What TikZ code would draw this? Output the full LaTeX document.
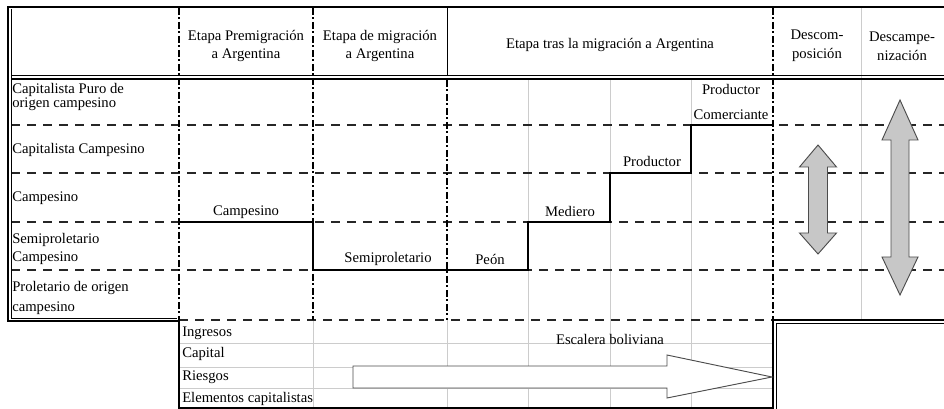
\documentclass[tikz,border=0pt]{standalone}
\usepackage{fontspec}
\setmainfont{Liberation Serif}
\begin{document}
\begin{tikzpicture}[x=0.75pt,y=-0.75pt,
  txt/.style={font=\fontsize{11}{12}\selectfont, inner sep=0pt},
  lbl/.style={txt, anchor=west, align=left},
  ctr/.style={txt, align=center},
  frame/.style={line width=2pt, black},
  thinframe/.style={line width=0.6pt, black},
  rowdash/.style={line width=0.9pt, dash pattern=on 7pt off 5pt, black!85},
  coldash/.style={line width=1.3pt, dash pattern=on 5pt off 2pt on 1.5pt off 2pt},
  gridline/.style={line width=0.6pt, black!20},
  stepline/.style={line width=2pt, line join=miter},
  dblarrow/.style={draw=black!70, fill=black!22, line width=0.7pt},
  bigarrow/.style={draw=black!70, fill=white, line width=0.7pt},
]
\useasboundingbox (0,0) rectangle (944,409);

% light grid
\foreach \x in {528,610,691} \draw[gridline] (\x,80) -- (\x,408);
\foreach \x in {313,447} \draw[gridline] (\x,320) -- (\x,408);
\draw[gridline] (861,8) -- (861,320);
\foreach \y in {343,367,388} \draw[gridline] (179,\y) -- (773,\y);

% dashed rows
\foreach \y in {125,173,222,270} \draw[rowdash] (11,\y) -- (944,\y);
\draw[rowdash] (179,320) -- (773,320);

% dash-dot columns
\foreach \x in {179,313,773} \draw[coldash] (\x,8) -- (\x,320);
\draw[coldash] (447,80) -- (447,320);
\draw[line width=0.6pt] (447,8) -- (447,76);

% frame
\draw[frame] (944,7) -- (8,7) -- (8,321) -- (179,321) -- (179,409);
\draw[thinframe] (11,9) -- (11,318) -- (177,318);
\draw[thinframe] (11,75.5) -- (944,75.5);
\draw[frame] (11,79) -- (944,79);
\draw[frame] (773,409) -- (773,320) -- (944,320);
\draw[thinframe] (776,409) -- (776,323) -- (944,323);
\draw[line width=0.8pt] (179,408) -- (773,408);

% step line
\coordinate (s0) at (179,222);
\coordinate (s1) at (313,222);
\coordinate (s2) at (313,270);
\coordinate (s3) at (528,270);
\coordinate (s4) at (528,222);
\coordinate (s5) at (610,222);
\coordinate (s6) at (610,173);
\coordinate (s7) at (691,173);
\coordinate (s8) at (691,125);
\coordinate (s9) at (773,125);
\draw[stepline] (s0) -- (s1) -- (s2) -- (s3) -- (s4) -- (s5) -- (s6) -- (s7) -- (s8) -- (s9);

% header texts
\node[ctr] (h1) at (246,46) {Etapa Premigración\\[2pt]a Argentina};
\node[ctr] (h2) at (380,46) {Etapa de migración\\[2pt]a Argentina};
\node[ctr] (h3) at (610,45) {Etapa tras la migración a Argentina};
\node[ctr] (h4) at (817,46) {Descom-\\[2pt]posición};
\node[ctr] (h5) at (902,46) {Descampe-\\[2pt]nización};

% row labels
\node[lbl, font=\fontsize{11}{10}\selectfont] (r1) at (12,97) {Capitalista Puro de\\origen campesino};
\node[lbl] (r2) at (12,150) {Capitalista Campesino};
\node[lbl] (r3) at (12,198) {Campesino};
\node[lbl, font=\fontsize{11}{13.5}\selectfont] (r4) at (12,249) {Semiproletario\\Campesino};
\node[lbl, font=\fontsize{11}{15}\selectfont] (r5) at (12,298) {Proletario de origen\\campesino};

% step labels
\node[ctr] (l1) at (246,212) {Campesino};
\node[ctr] (l2) at (388,259) {Semiproletario};
\node[ctr] (l3) at (490,259) {Peón};
\node[ctr] (l4) at (570,211) {Mediero};
\node[ctr] (l5) at (652,161) {Productor};
\node[ctr, font=\fontsize{11}{19}\selectfont] (l6) at (731,102) {Productor\\Comerciante};

% bottom labels
\node[lbl] (b1) at (182,333) {Ingresos};
\node[lbl] (b2) at (182,354) {Capital};
\node[lbl] (b3) at (182,377) {Riesgos};
\node[lbl] (b4) at (182,399) {Elementos capitalistas};
\node[ctr] (esc) at (610,339) {Escalera boliviana};

% big right arrow
\draw[bigarrow] (353,366) -- (667,366) -- (667,355) -- (772,377) -- (667,398) -- (667,388) -- (353,388) -- cycle;

% double arrows
\draw[dblarrow] (818,145) -- (836.5,167) -- (827.5,167) -- (827.5,233) -- (836.5,233) -- (818,254)
  -- (799.5,233) -- (808.5,233) -- (808.5,167) -- (799.5,167) -- cycle;
\draw[dblarrow] (900,100) -- (918,140) -- (909,140) -- (909,257) -- (918,257) -- (900,295)
  -- (882,257) -- (891,257) -- (891,140) -- (882,140) -- cycle;
\end{tikzpicture}
\end{document}
